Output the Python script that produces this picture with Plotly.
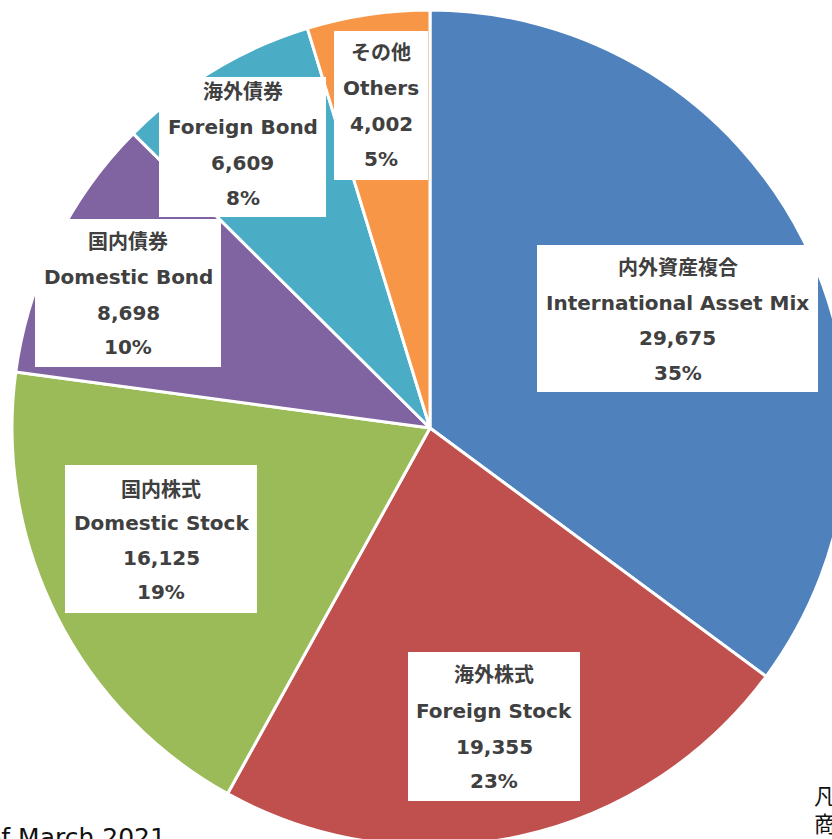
import plotly.graph_objects as go

# ---- data ----
labels_jp = ["内外資産複合", "海外株式", "国内株式", "国内債券", "海外債券", "その他"]
labels_en = ["International Asset Mix", "Foreign Stock", "Domestic Stock",
             "Domestic Bond", "Foreign Bond", "Others"]
values = [29675, 19355, 16125, 8698, 6609, 4002]
colors = ["#4F81BD", "#C0504D", "#9BBB59", "#8064A2", "#4BACC6", "#F79646"]
footnote = "As of March 2021"
side_chars = ["凡", "商"]

# ---- layout helpers (pixel positions of label boxes) ----
W, H = 860, 860
box_px = [
    (537, 245, 818, 392),
    (408, 652, 580, 801),
    (65, 465, 257, 613),
    (35, 219, 221, 367),
    (159, 77, 326, 217),
    (334, 31, 428, 180),
]
line_y_px = [
    [268, 303, 338, 373],
    [675, 711, 747, 781],
    [490, 523, 558, 592],
    [242, 277, 313, 347],
    [92, 127, 163, 198],
    [53, 88, 124, 159],
]

def px(x):
    return x / W

def py(y):
    return 1 - y / H

total = sum(values)
pcts = [round(v / total * 100) for v in values]

FONT = "DejaVu Sans, Noto Sans CJK JP, sans-serif"
TXT = "#404040"

fig = go.Figure(go.Pie(
    labels=labels_en,
    values=values,
    sort=False,
    direction="clockwise",
    rotation=0,
    marker=dict(colors=colors, line=dict(color="white", width=3)),
    textinfo="none",
    hoverinfo="skip",
    showlegend=False,
    domain=dict(x=[px(12), px(848)], y=[py(846), py(10)]),
))

shapes = []
annotations = []
for i in range(len(values)):
    x0, y0, x1, y1 = box_px[i]
    shapes.append(dict(type="rect", xref="paper", yref="paper",
                       x0=px(x0), x1=px(x1), y0=py(y1), y1=py(y0),
                       fillcolor="white", line=dict(width=0), layer="above"))
    cx = px((x0 + x1) / 2)
    texts = [labels_jp[i], labels_en[i], f"{values[i]:,}", f"{pcts[i]}%"]
    sizes = [20, 20, 20, 20]
    for t, yy, s in zip(texts, line_y_px[i], sizes):
        annotations.append(dict(
            text=f"<b>{t}</b>", x=cx, y=py(yy), xref="paper", yref="paper",
            xanchor="center", yanchor="middle", showarrow=False,
            font=dict(family=FONT, size=s, color=TXT)))

annotations.append(dict(
    text=footnote, x=px(168), y=py(821), xref="paper", yref="paper",
    xanchor="right", yanchor="top", showarrow=False,
    font=dict(family=FONT, size=25, color="#111111")))
for ch, yy in zip(side_chars, [796, 824]):
    annotations.append(dict(
        text=ch, x=px(812), y=py(yy), xref="paper", yref="paper",
        xanchor="left", yanchor="middle", showarrow=False,
        font=dict(family=FONT, size=22, color="#111111")))

fig.update_layout(
    width=W, height=H,
    margin=dict(l=0, r=0, t=0, b=0),
    paper_bgcolor="white", plot_bgcolor="white",
    shapes=shapes, annotations=annotations,
)

fig.write_html(
    "out.html",
    config={"displayModeBar": False},
    post_script="document.body.style.margin='0';document.body.style.overflow='hidden';"
                "document.documentElement.style.overflow='hidden';",
)
